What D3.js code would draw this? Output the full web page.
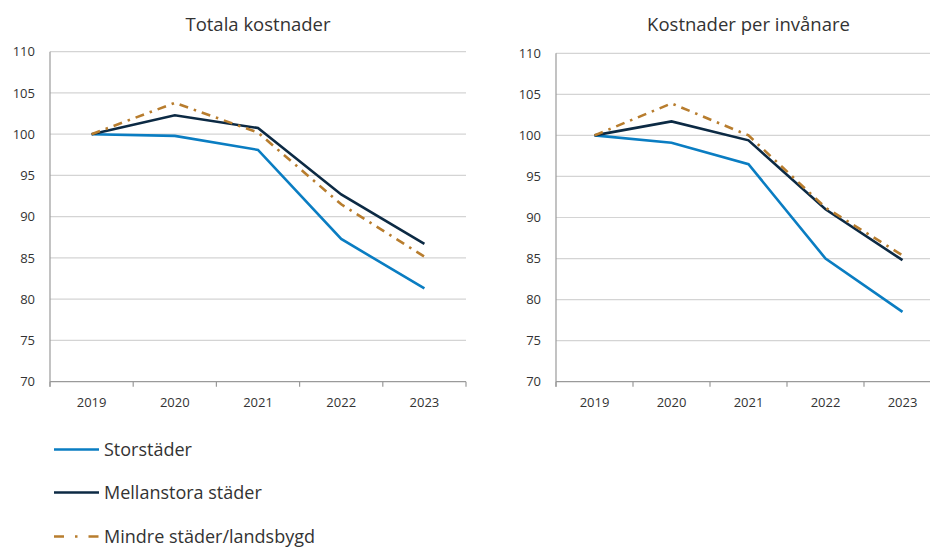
<!DOCTYPE html>
<html lang="sv">
<head>
  <meta charset="UTF-8" />
  <title>Kostnader</title>
  <script src="https://d3js.org/d3.v7.min.js"></script>
  <style>
    html, body {
      margin: 0;
      padding: 0;
      background: white;
      overflow: hidden;
    }
    svg text {
      font-family: "Open Sans", sans-serif;
      fill: #333;
    }
  </style>
</head>
<body>
  <svg id="chart" width="930" height="550"></svg>

  <script>
    const years = ["2019", "2020", "2021", "2022", "2023"];
    const yTicks = [70, 75, 80, 85, 90, 95, 100, 105, 110];
    const seriesNames = ["Storstäder", "Mellanstora städer", "Mindre städer/landsbygd"];

    // Totala kostnader
    const totalStor = [100, 99.8, 98.1, 87.3, 81.3];
    const totalMellan = [100, 102.3, 100.75, 92.7, 86.7];
    const totalMindre = [100, 103.8, 100.2, 91.5, 85.15];

    // Kostnader per invånare
    const perStor = [100, 99.1, 96.5, 85.0, 78.5];
    const perMellan = [100, 101.7, 99.4, 91.0, 84.8];
    const perMindre = [100, 103.9, 100.0, 91.2, 85.4];

    const colors = ["#0a7dc2", "#0c2a44", "#b87d2e"];
    const dashes = [null, null, "9,6,2.5,6"];

    const svg = d3.select("#chart");

    function drawPanel(opts) {
      const g = svg.append("g");
      const x = d3.scaleBand().domain(years).range([opts.left, opts.right]).padding(0);
      const y = d3.scaleLinear().domain([70, 110]).range([opts.bottom, opts.top]);

      // gridlines
      g.selectAll("line.grid")
        .data(yTicks.filter(t => t > 70))
        .enter().append("line")
        .attr("x1", opts.left).attr("x2", opts.right)
        .attr("y1", d => y(d)).attr("y2", d => y(d))
        .attr("stroke", "#d4d4d4").attr("stroke-width", 1.2);

      // y labels
      g.selectAll("text.ylab")
        .data(yTicks)
        .enter().append("text")
        .attr("x", opts.left - 15)
        .attr("y", d => y(d))
        .attr("dy", "0.35em")
        .attr("text-anchor", "end")
        .style("font-size", "13px")
        .text(d => d);

      // x axis line + ticks
      g.append("line")
        .attr("x1", opts.left).attr("x2", opts.right)
        .attr("y1", y(70)).attr("y2", y(70))
        .attr("stroke", "#9a9a9a").attr("stroke-width", 1.2);
      const edges = years.map(d => x(d)).concat([x.range()[1]]);
      g.selectAll("line.xtick")
        .data(edges)
        .enter().append("line")
        .attr("x1", d => d).attr("x2", d => d)
        .attr("y1", y(70)).attr("y2", y(70) + 5)
        .attr("stroke", "#9a9a9a").attr("stroke-width", 1.2);

      // y axis line
      g.append("line")
        .attr("x1", opts.left).attr("x2", opts.left)
        .attr("y1", y(110)).attr("y2", y(70) + 5)
        .attr("stroke", "#9a9a9a").attr("stroke-width", 1.2);

      g.selectAll("text.xlab")
        .data(years)
        .enter().append("text")
        .attr("x", d => x(d) + x.bandwidth() / 2)
        .attr("y", y(70) + 25)
        .attr("text-anchor", "middle")
        .style("font-size", "13px")
        .text(d => d);

      // title
      g.append("text")
        .attr("x", (opts.left + opts.right) / 2)
        .attr("y", 31)
        .attr("text-anchor", "middle")
        .style("font-size", "18.5px")
        .text(opts.title);

      const line = d3.line()
        .x((d, i) => x(years[i]) + x.bandwidth() / 2)
        .y(d => y(d));

      opts.series.forEach((s, i) => {
        g.append("path")
          .datum(s)
          .attr("d", line)
          .attr("fill", "none")
          .attr("stroke", colors[i])
          .attr("stroke-width", 2.6)
          .attr("stroke-dasharray", dashes[i])
          .attr("stroke-linejoin", "miter");
      });
    }

    drawPanel({
      title: "Totala kostnader",
      left: 50, right: 466, top: 51.7, bottom: 381.7,
      series: [totalStor, totalMellan, totalMindre]
    });

    drawPanel({
      title: "Kostnader per invånare",
      left: 556, right: 941, top: 53.3, bottom: 381.7,
      series: [perStor, perMellan, perMindre]
    });

    // legend
    const legend = svg.append("g");
    const legendY = [449.5, 492.5, 536.5];
    seriesNames.forEach((name, i) => {
      legend.append("line")
        .attr("x1", 54).attr("x2", 99)
        .attr("y1", legendY[i]).attr("y2", legendY[i])
        .attr("stroke", colors[i])
        .attr("stroke-width", 2.6)
        .attr("stroke-dasharray", i === 2 ? "10,11,2.5,11" : null);
      legend.append("text")
        .attr("x", 104)
        .attr("y", legendY[i])
        .attr("dy", "0.35em")
        .style("font-size", "18px")
        .text(name);
    });
  </script>
</body>
</html>
